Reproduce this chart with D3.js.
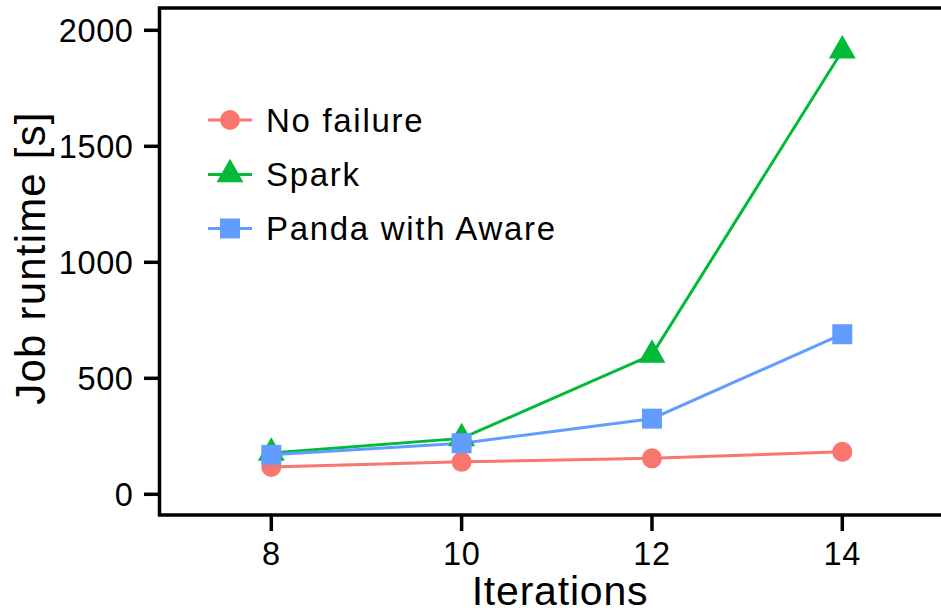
<!DOCTYPE html>
<html>
<head>
<meta charset="utf-8">
<script src="https://cdn.jsdelivr.net/npm/d3@7"></script>
<style>
  html, body { margin: 0; padding: 0; background: #fff; }
  svg { display: block; }
  text { font-family: "Liberation Sans", Arial, Helvetica, sans-serif; fill: #000; }
</style>
</head>
<body>
<svg id="chart" width="941" height="612"></svg>
<script>
// ---- data ----
const iterations = [8, 10, 12, 14];
const noFailure = [118, 140, 155, 183];
const spark = [178, 241, 601, 1912];
const pandaAware = [170, 220, 326, 690];
const seriesNames = ["No failure", "Spark", "Panda with Aware"];
const seriesColors = ["#F8766D", "#00BA38", "#619CFF"];
const seriesShapes = ["circle", "triangle", "square"];
const xTicks = [8, 10, 12, 14];
const yTicks = [0, 500, 1000, 1500, 2000];

const series = [noFailure, spark, pandaAware].map((vals, i) => ({
  name: seriesNames[i], color: seriesColors[i], shape: seriesShapes[i],
  points: vals.map((v, j) => ({ x: iterations[j], y: v }))
}));

const svg = d3.select("#chart");
const panel = { left: 159.5, top: 8, right: 965, bottom: 515 };

const x = d3.scaleLinear().domain([8, 14]).range([271.3, 842.3]);
const y = d3.scaleLinear().domain([0, 2000]).range([494.3, 30.3]);

// markers
function drawMarker(g, shape, color, cx, cy) {
  if (shape === "circle") {
    g.append("circle").attr("cx", cx).attr("cy", cy).attr("r", 10).attr("fill", color);
  } else if (shape === "square") {
    g.append("rect").attr("x", cx - 10).attr("y", cy - 10).attr("width", 20).attr("height", 20).attr("fill", color);
  } else {
    const h = 23.5, w = 27;
    const top = cy - h * 2 / 3, bot = cy + h / 3;
    g.append("path").attr("d", `M${cx},${top}L${cx + w / 2},${bot}L${cx - w / 2},${bot}Z`).attr("fill", color);
  }
}

// lines
const line = d3.line().x(d => x(d.x)).y(d => y(d.y));
const linesG = svg.append("g");
series.forEach(s => {
  linesG.append("path").datum(s.points).attr("d", line)
    .attr("fill", "none").attr("stroke", s.color).attr("stroke-width", 3);
});
const markG = svg.append("g");
series.forEach(s => {
  s.points.forEach(p => drawMarker(markG, s.shape, s.color, x(p.x), y(p.y)));
});

// frame
svg.append("rect").attr("x", panel.left).attr("y", panel.top)
  .attr("width", panel.right - panel.left).attr("height", panel.bottom - panel.top)
  .attr("fill", "none").attr("stroke", "#000").attr("stroke-width", 3.5);

// y axis ticks
const yAxis = svg.append("g");
yTicks.forEach(t => {
  yAxis.append("line").attr("x1", 144).attr("x2", panel.left).attr("y1", y(t)).attr("y2", y(t))
    .attr("stroke", "#000").attr("stroke-width", 3.5);
  yAxis.append("text").attr("x", 133.5).attr("y", y(t) + 11.7)
    .attr("text-anchor", "end").attr("font-size", 32.5).attr("letter-spacing", 0.6).text(t);
});
// x axis ticks
const xAxis = svg.append("g");
xTicks.forEach(t => {
  xAxis.append("line").attr("x1", x(t)).attr("x2", x(t)).attr("y1", panel.bottom).attr("y2", 531)
    .attr("stroke", "#000").attr("stroke-width", 3.5);
  xAxis.append("text").attr("x", x(t)).attr("y", 564.5)
    .attr("text-anchor", "middle").attr("font-size", 32.5).attr("letter-spacing", 0.6).text(t);
});

// axis titles
svg.append("text").attr("x", 560).attr("y", 604.5).attr("text-anchor", "middle")
  .attr("font-size", 41).attr("letter-spacing", 0.8).text("Iterations");
svg.append("text").attr("transform", "translate(45,258) rotate(-90)").attr("text-anchor", "middle")
  .attr("font-size", 42).attr("letter-spacing", 1.2).text("Job runtime [s]");

// legend
const legend = svg.append("g");
const legY = [120, 174.5, 228.5];
series.forEach((s, i) => {
  const cy = legY[i];
  legend.append("line").attr("x1", 208).attr("x2", 252).attr("y1", cy).attr("y2", cy)
    .attr("stroke", s.color).attr("stroke-width", 3);
  drawMarker(legend, s.shape, s.color, 230, cy);
  legend.append("text").attr("x", 266).attr("y", cy + 11.7).attr("font-size", 33)
    .attr("letter-spacing", 1.7).text(s.name);
});
</script>
</body>
</html>
